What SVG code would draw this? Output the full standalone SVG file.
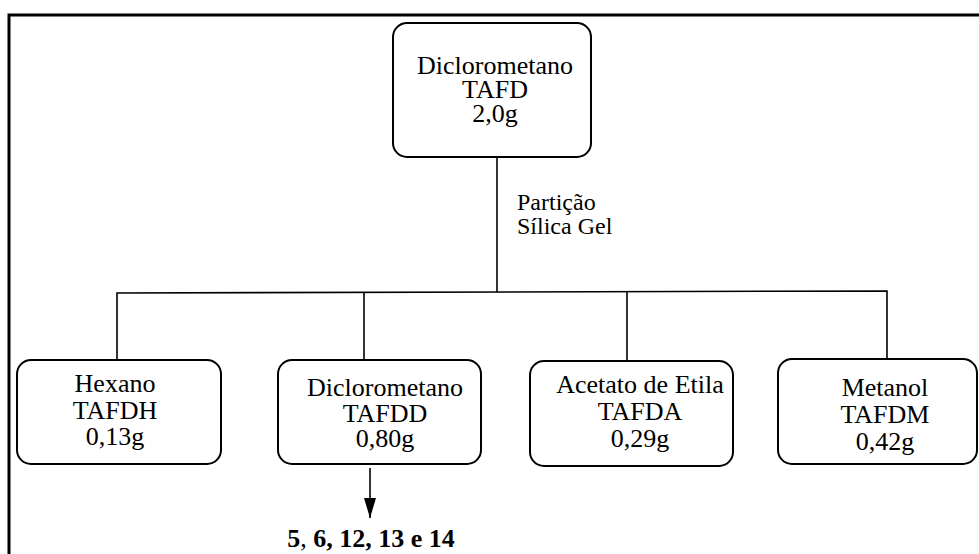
<svg xmlns="http://www.w3.org/2000/svg" width="979" height="554" viewBox="0 0 979 554">
<style>
.box{fill:#fff;stroke:#000;stroke-width:2}
.t{font-family:"Liberation Serif","Times New Roman","DejaVu Serif",serif;font-size:26px;fill:#000;text-anchor:middle}
.s{font-size:24px;text-anchor:start}
.b{font-weight:bold}
.c{fill:none;stroke:#000;stroke-width:1.6}
</style>
<defs>
<marker id="ah" markerWidth="20" markerHeight="12" refX="20" refY="6" orient="auto" markerUnits="userSpaceOnUse" viewBox="0 0 20 12">
<path d="M0,0 L20,6 L0,12 Z" fill="#000"/>
</marker>
</defs>
<rect width="979" height="554" fill="#fff"/>
<path d="M9,554 V15 H979" fill="none" stroke="#000" stroke-width="3"/>
<g id="connectors">
<line class="c" x1="497" y1="157" x2="497" y2="292"/>
<polyline class="c" points="117,360 117,293 887,291 887,360"/>
<line class="c" x1="364" y1="292.5" x2="364" y2="360"/>
<line class="c" x1="627" y1="292" x2="627" y2="361"/>
<line class="c" x1="370" y1="468" x2="370" y2="518" marker-end="url(#ah)" stroke-width="2"/>
<text class="t s" x="517" y="210">Partição</text>
<text class="t s" x="517" y="234">Sílica Gel</text>
</g>
<g id="n-top">
<rect class="box" x="393" y="23" width="198" height="134" rx="14"/>
<text class="t" x="495" y="74">Diclorometano</text>
<text class="t" x="495" y="98">TAFD</text>
<text class="t" x="495" y="122">2,0g</text>
</g>
<g id="n-hexano">
<rect class="box" x="17" y="360" width="204" height="104" rx="14"/>
<text class="t" x="115" y="392">Hexano</text>
<text class="t" x="115" y="419">TAFDH</text>
<text class="t" x="115" y="445">0,13g</text>
</g>
<g id="n-dcm">
<rect class="box" x="278" y="360" width="203" height="104" rx="14"/>
<text class="t" x="385" y="396">Diclorometano</text>
<text class="t" x="385" y="422">TAFDD</text>
<text class="t" x="385" y="447">0,80g</text>
</g>
<g id="n-acetato">
<rect class="box" x="530" y="361" width="203" height="105" rx="14"/>
<text class="t" x="640" y="393">Acetato de Etila</text>
<text class="t" x="640" y="420">TAFDA</text>
<text class="t" x="640" y="447">0,29g</text>
</g>
<g id="n-metanol">
<rect class="box" x="778" y="359" width="199" height="105" rx="14"/>
<text class="t" x="885" y="396">Metanol</text>
<text class="t" x="885" y="423">TAFDM</text>
<text class="t" x="885" y="450">0,42g</text>
</g>
<g id="result">
<text class="t b" x="371" y="547"><tspan>5</tspan><tspan font-weight="normal">,</tspan><tspan> 6, 12, 13 e 14</tspan></text>
</g>
</svg>
